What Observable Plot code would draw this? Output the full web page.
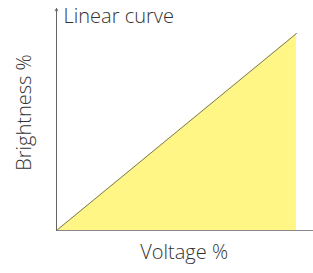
<!DOCTYPE html>
<html><head><meta charset="utf-8">
<script src="https://cdn.jsdelivr.net/npm/d3@7"></script>
<script src="https://cdn.jsdelivr.net/npm/@observablehq/plot@0.6"></script>
<style>
html,body{margin:0;padding:0;background:#fff;}
svg{font-family:"Open Sans",Lato,sans-serif;}
</style></head><body>
<div id="chart"></div>
<script>
const voltage = [0, 100];
const brightness = [0, 100];
const title = "Linear curve";
const xLabel = "Voltage %";
const yLabel = "Brightness %";
const data = voltage.map((v, i) => ({v, b: brightness[i]}));

const xMax = 107.1, yMax = 112.7;
const chart = Plot.plot({
  width: 313, height: 273,
  marginLeft: 56, marginRight: 0, marginTop: 8, marginBottom: 43,
  x: {domain: [0, xMax], axis: null},
  y: {domain: [0, yMax], axis: null},
  style: {fontFamily: "'Open Sans', Lato, sans-serif", background: "#fff"},
  marks: [
    Plot.areaY(data, {x: "v", y: "b", fill: "#fff685"}),
    Plot.line(data, {x: "v", y: "b", stroke: "#777", strokeWidth: 1}),
    Plot.ruleY([0], {x1: 0, x2: xMax, stroke: "#888", strokeWidth: 1.2}),
    Plot.arrow([{x: 0}], {x1: 0, y1: 0, x2: 0, y2: yMax, stroke: "#666", strokeWidth: 1, headLength: 4, bend: 0}),
    Plot.text([title], {frameAnchor: "top-left", dx: 7, dy: 0, lineAnchor: "top", textAnchor: "start", fontSize: 20, fontWeight: 300, fill: "#333"}),
    Plot.text([xLabel], {frameAnchor: "bottom", x: 53.2, dy: 28, lineAnchor: "bottom", fontSize: 20, fontWeight: 300, fill: "#333"}),
    Plot.text([yLabel], {frameAnchor: "left", dx: -32, dy: -7, rotate: -90, textAnchor: "middle", lineAnchor: "middle", fontSize: 20, fontWeight: 300, fill: "#333"})
  ]
});
document.getElementById("chart").appendChild(chart);
</script></body></html>
